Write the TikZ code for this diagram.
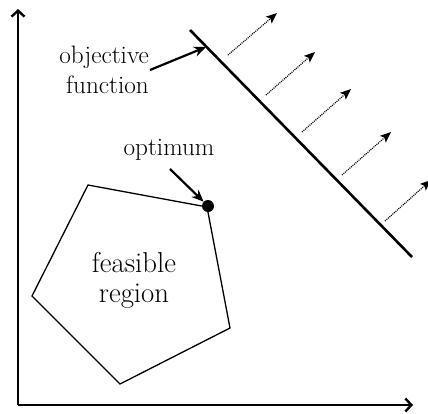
\documentclass[tikz,border=0pt]{standalone}
\usepackage{fontspec}
\usetikzlibrary{arrows.meta}
\tikzset{
  axis/.style={line width=2.4pt, -{Straight Barb[length=6pt,width=13pt,line width=2.4pt]}},
  region/.style={line width=1.3pt, line join=miter},
  objline/.style={line width=2.6pt},
  pointer/.style={line width=2.2pt, -{Stealth[length=12pt,width=10pt]}},
  gradarrow/.style={line width=1.2pt, dash pattern=on 1pt off 1pt, -{Stealth[length=11pt,width=9pt,inset=2.5pt,line width=0pt]}},
  lbl/.style={inner sep=0pt, font=\fontsize{25.2}{30}\selectfont},
  biglbl/.style={inner sep=0pt, font=\fontsize{28.8}{30}\selectfont},
}
\begin{document}
\begin{tikzpicture}[x=1pt,y=-1pt]
\useasboundingbox (0,0) rectangle (428,413);
% axes
\coordinate (O) at (18,405);
\coordinate (Ytop) at (18,9);
\coordinate (Xend) at (413,405);
\draw[axis] (O) -- (Ytop);
\draw[axis] (O) -- (Xend);
% feasible region
\coordinate (p1) at (88,185);
\coordinate (p2) at (207,207);
\coordinate (p3) at (230,328);
\coordinate (p4) at (120,384);
\coordinate (p5) at (32,296);
\draw[region] (p1) -- (p2) -- (p3) -- (p4) -- (p5) -- cycle;
\node[circle, fill=black, inner sep=0pt, minimum size=12pt] (opt) at (208,206) {};
% objective line
\coordinate (l1) at (190,30);
\coordinate (l2) at (412,257);
\draw[objline] (l1) -- (l2);
% gradient arrows
\coordinate (a1) at (228,55);  \coordinate (b1) at (277,13);
\coordinate (a2) at (266,95);  \coordinate (b2) at (315,52);
\coordinate (a3) at (302,132); \coordinate (b3) at (351,89);
\coordinate (a4) at (342,175); \coordinate (b4) at (391,132);
\coordinate (a5) at (385,221); \coordinate (b5) at (431,180);
\foreach \i in {1,...,5} \draw[gradarrow] (a\i) -- (b\i);
% labels
\node[lbl, align=right, anchor=base east] (obj) at (149,93) {objective\\function};
\node[lbl, anchor=base] (optlbl) at (169,155) {optimum};
\node[biglbl, align=center, anchor=base] (feas) at (134,302) {feasible\\region};
% pointers
\coordinate (objtip) at (206,47);
\draw[pointer] (150,70) -- (objtip);
\draw[pointer] (170,169) -- (opt);
\end{tikzpicture}
\end{document}
